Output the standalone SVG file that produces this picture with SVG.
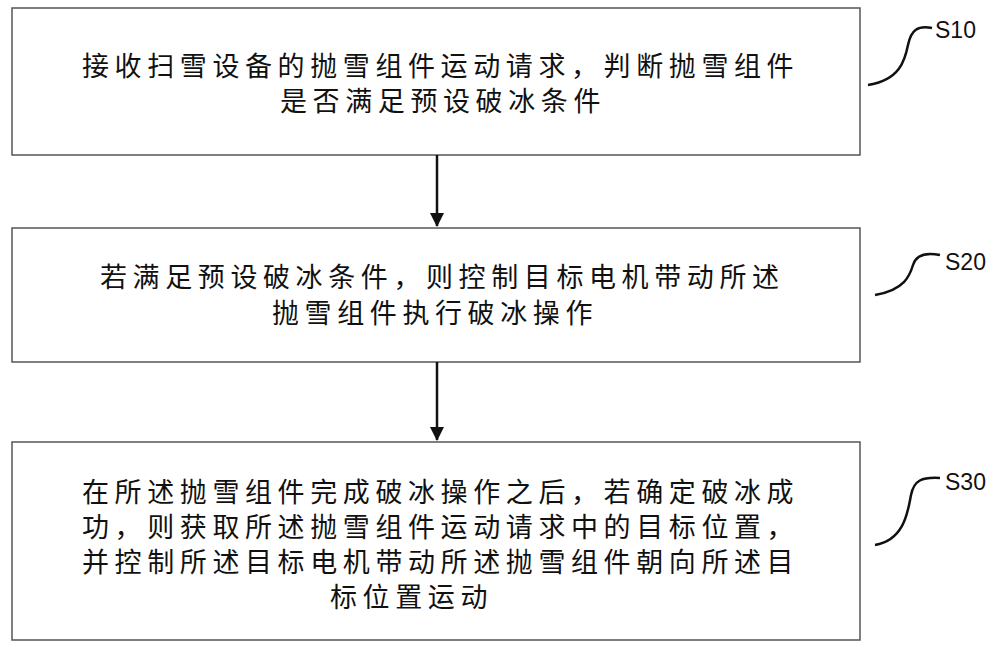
<svg xmlns="http://www.w3.org/2000/svg" width="1000" height="650" viewBox="0 0 1000 650">
<defs>
<style>
.box{fill:#fff;stroke:#555;stroke-width:1.5}
.t{font-family:"Noto Sans CJK SC","Liberation Sans",sans-serif;font-size:27px;letter-spacing:5.6px;fill:#111}
.l{font-family:"Liberation Sans",sans-serif;font-size:23px;fill:#111}
.c{fill:none;stroke:#111;stroke-width:2.5}
</style>
<marker id="ah" markerWidth="14" markerHeight="16" refX="13" refY="7" orient="auto" markerUnits="userSpaceOnUse" viewBox="0 0 14 14"><path d="M0,0 L14,7 L0,14 z" fill="#111"/></marker>
</defs>
<rect width="1000" height="650" fill="#fff"/>
<g id="n1"><rect class="box" x="12" y="8" width="848" height="147"/>
<text class="t" x="82" y="76">接收扫雪设备的抛雪组件运动请求，判断抛雪组件</text>
<text class="t" x="280" y="111">是否满足预设破冰条件</text></g>
<g id="n2"><rect class="box" x="12" y="228" width="848" height="134"/>
<text class="t" x="100" y="287">若满足预设破冰条件，则控制目标电机带动所述</text>
<text class="t" x="272" y="323">抛雪组件执行破冰操作</text></g>
<g id="n3"><rect class="box" x="12" y="442" width="848" height="198"/>
<text class="t" x="82" y="502">在所述抛雪组件完成破冰操作之后，若确定破冰成</text>
<text class="t" x="82" y="537">功，则获取所述抛雪组件运动请求中的目标位置，</text>
<text class="t" x="82" y="572">并控制所述目标电机带动所述抛雪组件朝向所述目</text>
<text class="t" x="330" y="607">标位置运动</text></g>
<g id="labels">
<path class="c" d="M868,85 C900,80 905,60 908,45 C911,30 918,25 932,28"/>
<text class="l" x="935" y="38">S10</text>
<path class="c" d="M875,295 C905,290 910,275 913,265 C916,255 925,252 940,255"/>
<text class="l" x="945" y="270">S20</text>
<path class="c" d="M875,545 C905,540 908,510 911,495 C914,480 922,477 940,478"/>
<text class="l" x="945" y="490">S30</text>
</g>
<g id="connectors">
<line class="c" x1="437" y1="155" x2="437" y2="226" marker-end="url(#ah)"/>
<line class="c" x1="437" y1="362" x2="437" y2="440" marker-end="url(#ah)"/>
</g>
</svg>
